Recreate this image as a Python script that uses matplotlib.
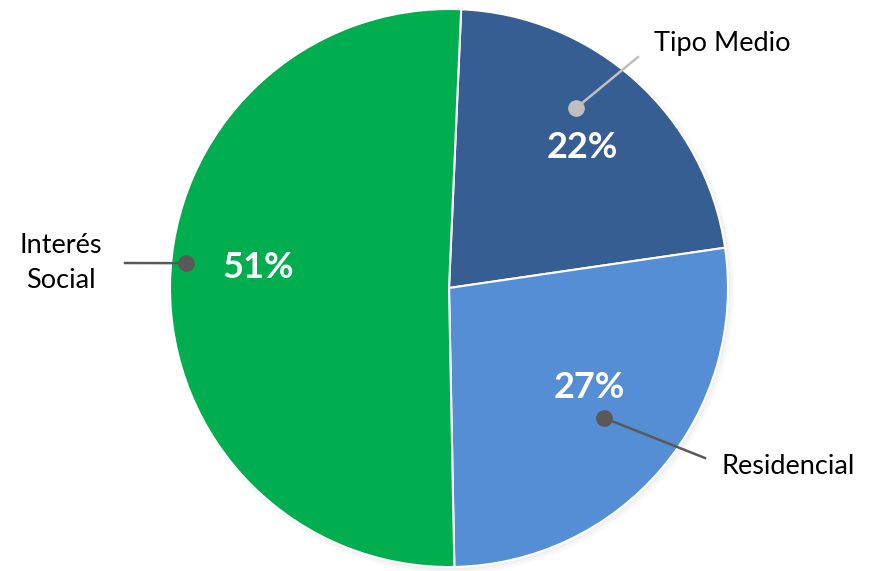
import numpy as np
import matplotlib.pyplot as plt
from matplotlib.patches import Circle

# housing segments
labels = ['Tipo Medio', 'Residencial', 'Interés\nSocial']
shares = [22, 27, 51]
colors = ['#375E92', '#558ED5', '#00AD4F']

plt.rcParams['font.family'] = ['Lato', 'DejaVu Sans']

fig = plt.figure(figsize=(8.75, 5.71), dpi=100)
ax = fig.add_axes([0, 0, 1, 1])

cx, cy, R = 449, 283, 279
start = 87.5

# soft shadow under the pie
for i, a in enumerate([0.05, 0.04, 0.03]):
    ax.add_patch(Circle((cx + 1.5 + i, cy - 1.5 - i), R + 1 + i, color='#7f7f7f',
                        alpha=a, lw=0, zorder=0))

wedges, _ = ax.pie(shares, colors=colors, startangle=start, counterclock=False,
                   center=(cx, cy), radius=R, frame=True,
                   wedgeprops=dict(edgecolor='white', linewidth=1.5))
ax.set_xlim(0, 875)
ax.set_ylim(0, 571)
ax.set_aspect('equal')
ax.axis('off')

def polar(ang, r):
    t = np.deg2rad(ang)
    return cx + r * np.cos(t), cy + r * np.sin(t)

# percent labels (angle, radius) per wedge
pct_pos = [(46.5, 194), (-35.5, 172), (174.0, 192)]
for s, (ang, r) in zip(shares, pct_pos):
    x, y = polar(ang, r)
    ax.text(x, y, f'{s}%', color='white', fontsize=26, fontweight='bold',
            ha='center', va='center')

# leader lines: dot inside the wedge, end point, text anchor
leaders = [
    dict(dot=(54.8, 220), end=(638, 514), txt=(654, 527), ha='left', c='#BFBFBF'),
    dict(dot=(-40.0, 202), end=(705, 113), txt=(722, 105), ha='left', c='#595959'),
    dict(dot=(174.6, 264), end=(125, 308), txt=(61, 308), ha='center', c='#595959'),
]
for lab, ld in zip(labels, leaders):
    dx, dy = polar(*ld['dot'])
    ex, ey = ld['end']
    ax.plot([dx, ex], [dy, ey], color=ld['c'], lw=1.8, zorder=5)
    ax.plot(dx, dy, 'o', ms=11, color=ld['c'], zorder=6)
    ax.text(*ld['txt'], lab, fontsize=19.5, color='black', ha=ld['ha'],
            va='center', linespacing=1.5)

fig.savefig('out.png', dpi=100)
